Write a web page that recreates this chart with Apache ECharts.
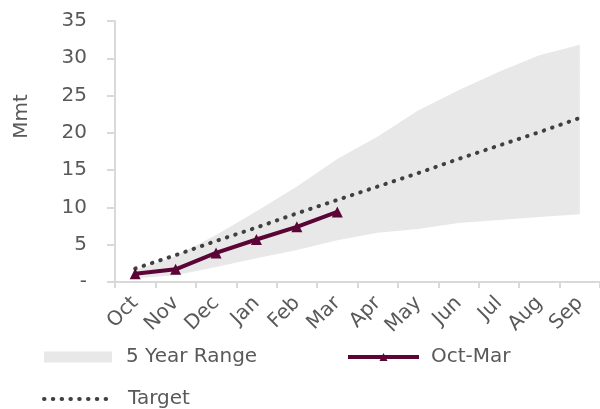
<!DOCTYPE html>
<html>
<head>
<meta charset="utf-8">
<script src="https://cdn.jsdelivr.net/npm/echarts@6/dist/echarts.min.js"></script>
<style>
  html, body { margin: 0; padding: 0; background: #fff; }
  #main { width: 600px; height: 409px; }
</style>
</head>
<body>
<div id="main"></div>
<script>
var months = ['Oct', 'Nov', 'Dec', 'Jan', 'Feb', 'Mar', 'Apr', 'May', 'Jun', 'Jul', 'Aug', 'Sep'];
var rangeLow = [0.5, 0.9, 2.0, 3.2, 4.3, 5.6, 6.6, 7.1, 7.9, 8.3, 8.7, 9.1];
var rangeHigh = [1.6, 3.5, 6.3, 9.5, 12.8, 16.5, 19.5, 23.0, 25.7, 28.2, 30.4, 31.8];
var target = [1.8, 3.6, 5.5, 7.3, 9.2, 11.0, 12.8, 14.6, 16.5, 18.3, 20.1, 22.0];
var octMar = [1.1, 1.7, 3.9, 5.7, 7.4, 9.4];
var yTicks = [0, 5, 10, 15, 20, 25, 30, 35];

var txt = '#595959';
var fontName = 'DejaVu Sans';

// band = low (invisible) + (high - low) stacked on top
var rangeSpan = [];
for (var i = 0; i < months.length; i++) {
    rangeSpan.push(+(rangeHigh[i] - rangeLow[i]).toFixed(2));
}

var myChart = echarts.init(document.getElementById('main'), null, {renderer: 'canvas'});

var legendText = { color: txt, fontSize: 20, fontFamily: fontName, padding: [0, 0, 0, 9] };

var option = {
    animation: false,
    grid: { left: 115, right: 0, top: 21, bottom: 127 },
    legend: [
        {
            left: 44, top: 347, padding: 0,
            itemWidth: 68, itemHeight: 11,
            textStyle: legendText,
            data: [{ name: '5 Year Range', icon: 'rect', itemStyle: { color: '#e8e8e8' } }]
        },
        {
            left: 346, top: 347, padding: 0,
            itemWidth: 71, itemHeight: 10,
            textStyle: { color: txt, fontSize: 20, fontFamily: fontName, padding: [0, 0, 0, 7] },
            data: [{ name: 'Oct-Mar', lineStyle: { width: 4, color: '#5a0535' } }]
        },
        {
            left: 42, top: 389, padding: 0,
            itemWidth: 70, itemHeight: 12,
            textStyle: legendText,
            data: [{
                name: 'Target',
                itemStyle: { opacity: 0 },
                lineStyle: { width: 4, color: '#404040', type: [0.5, 8.3], cap: 'round' }
            }]
        }
    ],
    xAxis: {
        type: 'category',
        boundaryGap: true,
        data: months,
        axisLine: { lineStyle: { color: '#d9d9d9', width: 2 } },
        axisTick: { show: true, length: 6, lineStyle: { color: '#d9d9d9', width: 2 } },
        axisLabel: {
            rotate: 45,
            margin: 18,
            color: txt,
            fontSize: 20,
            fontFamily: fontName
        }
    },
    yAxis: {
        type: 'value',
        min: yTicks[0],
        max: yTicks[yTicks.length - 1],
        interval: 5,
        name: 'Mmt',
        nameLocation: 'middle',
        nameRotate: 90,
        nameGap: 83,
        nameTextStyle: { color: txt, fontSize: 20, fontFamily: fontName, padding: [0, 0, 0, 70] },
        axisLine: { show: true, lineStyle: { color: '#d9d9d9', width: 2 } },
        axisTick: { show: true, length: 8, lineStyle: { color: '#d9d9d9', width: 2 } },
        splitLine: { show: false },
        axisLabel: {
            margin: 28,
            color: txt,
            fontSize: 20,
            fontFamily: fontName,
            formatter: function (v) { return v === 0 ? '-' : String(v); }
        }
    },
    series: [
        {
            name: 'low',
            type: 'line',
            stack: 'range',
            data: rangeLow,
            symbol: 'none',
            lineStyle: { width: 0, opacity: 0 },
            areaStyle: { opacity: 0 },
            silent: true,
            z: 1
        },
        {
            name: '5 Year Range',
            type: 'line',
            stack: 'range',
            data: rangeSpan,
            symbol: 'none',
            itemStyle: { color: '#e8e8e8' },
            lineStyle: { width: 0, opacity: 0 },
            areaStyle: { color: '#e8e8e8', opacity: 1 },
            z: 1
        },
        {
            name: 'Target',
            type: 'line',
            data: target,
            symbol: 'none',
            itemStyle: { color: '#404040' },
            lineStyle: { color: '#404040', width: 4, type: [0.5, 8.3], cap: 'round' },
            z: 3
        },
        {
            name: 'Oct-Mar',
            type: 'line',
            data: octMar,
            symbol: 'triangle',
            symbolSize: 11,
            itemStyle: { color: '#5a0535' },
            lineStyle: { color: '#5a0535', width: 4 },
            z: 4
        }
    ]
};

myChart.setOption(option);
</script>
</body>
</html>
